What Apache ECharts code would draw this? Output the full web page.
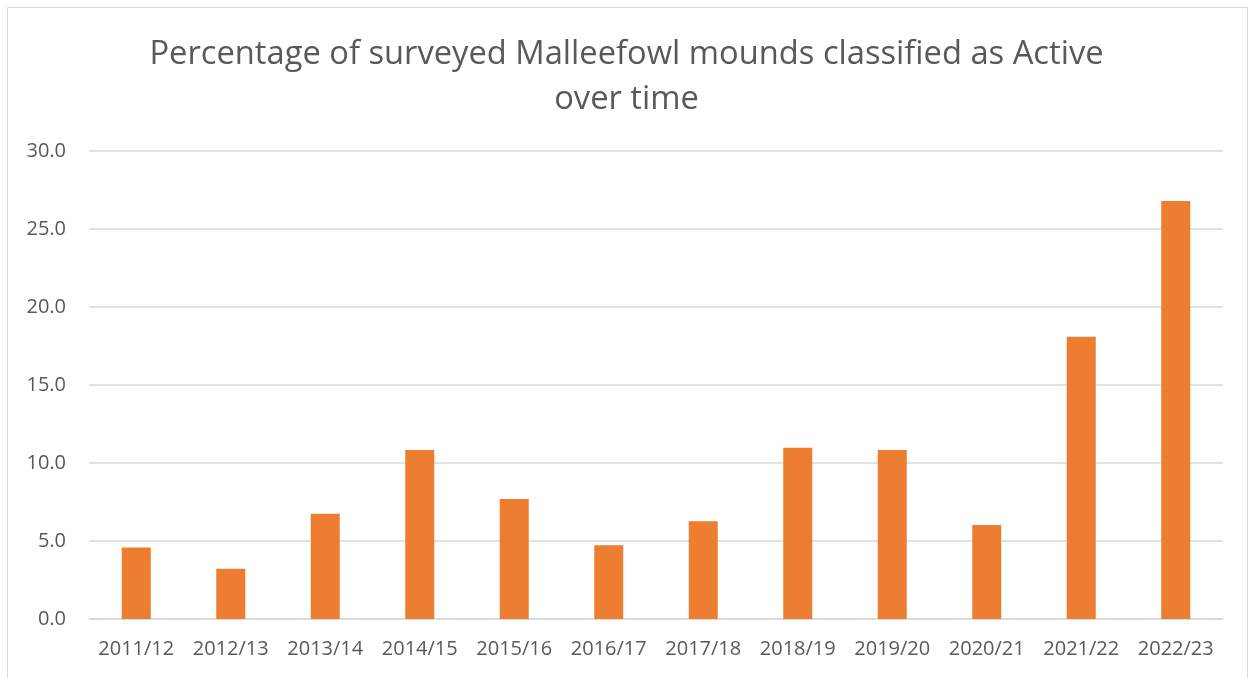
<!DOCTYPE html>
<html><head><meta charset="utf-8">
<script src="https://cdn.jsdelivr.net/npm/echarts@6/dist/echarts.min.js"></script>
<style>html,body{margin:0;padding:0;background:#fff}#c{width:1253px;height:678px}</style>
</head><body><div id="c"></div>
<script>
const categories = ['2011/12','2012/13','2013/14','2014/15','2015/16','2016/17','2017/18','2018/19','2019/20','2020/21','2021/22','2022/23'];
const activePct = [4.59, 3.22, 6.75, 10.83, 7.70, 4.72, 6.26, 10.98, 10.83, 6.03, 18.1, 26.8];
const yTicks = {min: 0, max: 30, interval: 5};
const titleText = 'Percentage of surveyed Malleefowl mounds classified as Active\nover time';

const chart = echarts.init(document.getElementById('c'));
chart.setOption({
  animation: false,
  backgroundColor: '#fff',
  graphic: [{type:'rect', shape:{x:7.5,y:7.5,width:1240,height:700}, style:{fill:'none', stroke:'#d9d9d9', lineWidth:1}}],
  title: {text: titleText, left: 'center', top: 27,
    textStyle: {fontFamily: 'Open Sans', fontSize: 32.7, fontWeight: 'normal', color: '#595959', lineHeight: 45}},
  grid: {left: 89, right: 30, top: 151, bottom: 59, containLabel: false},
  xAxis: {type: 'category', data: categories,
    axisLine: {lineStyle: {color: '#d9d9d9', width: 1.5}}, axisTick: {show: false},
    axisLabel: {interval: 0, hideOverlap: false, fontFamily: 'Open Sans', fontSize: 20, color: '#595959', margin: 20}},
  yAxis: {type: 'value', min: yTicks.min, max: yTicks.max, interval: yTicks.interval,
    axisLine: {show: false}, axisTick: {show: false},
    splitLine: {lineStyle: {color: '#d9d9d9', width: 1.5}},
    axisLabel: {fontFamily: 'Open Sans', fontSize: 20, color: '#595959', margin: 23, formatter: v => v.toFixed(1)}},
  series: [{type: 'bar', data: activePct, barWidth: 29, itemStyle: {color: '#ed7d31'}}]
});
</script></body></html>
